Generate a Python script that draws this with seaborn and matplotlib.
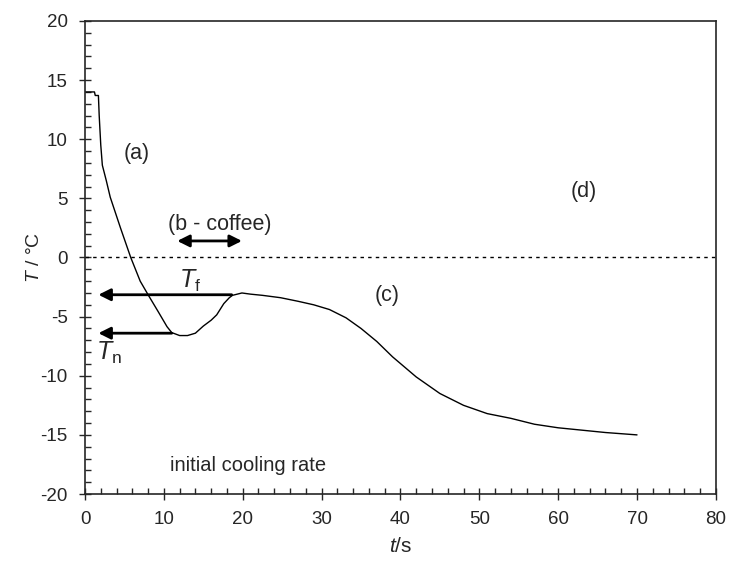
import numpy as np
import pandas as pd
import seaborn as sns
import matplotlib.pyplot as plt
from matplotlib.ticker import MultipleLocator

# temperature curve
t_s = [0, 1.2, 1.3, 1.7, 1.8, 2.0, 2.2, 2.7, 3.2, 4.5, 5.8, 7.0, 8.0, 9.3, 10.4, 11.0,
       12.0, 13.0, 14.0, 15.0, 16.0, 16.7, 17.6, 18.3, 18.7, 19.9, 21.0, 22.5, 24.8,
       27.0, 29.0, 31.0, 33.1, 35.0, 37.0, 39.0, 42.0, 45.0, 48.0, 51.0, 54.0, 57.0,
       60.0, 63.0, 66.0, 68.0, 70.0]
T_c = [14.0, 14.0, 13.7, 13.7, 12.0, 9.5, 7.8, 6.5, 5.1, 2.5, 0.0, -2.0, -3.15, -4.6,
       -5.85, -6.35, -6.6, -6.6, -6.4, -5.8, -5.3, -4.85, -3.9, -3.4, -3.2, -3.0, -3.1,
       -3.2, -3.4, -3.7, -4.0, -4.4, -5.1, -6.0, -7.1, -8.4, -10.1, -11.5, -12.5, -13.2,
       -13.6, -14.1, -14.4, -14.6, -14.8, -14.9, -15.0]

T_f = -3.15
T_n = -6.4
coffee_span = [11.7, 19.9]

sns.set_style('ticks')
plt.rcParams['font.family'] = ['Liberation Sans', 'DejaVu Sans']
plt.rcParams['axes.unicode_minus'] = False
plt.rcParams['mathtext.fontset'] = 'custom'
plt.rcParams['mathtext.it'] = 'Liberation Sans:italic'
plt.rcParams['mathtext.rm'] = 'Liberation Sans'

df = pd.DataFrame({'t': t_s, 'T': T_c})

fig = plt.figure(figsize=(7.29, 5.61), dpi=100)
ax = fig.add_axes([0.1166, 0.1194, 0.8654, 0.8432])

sns.lineplot(data=df, x='t', y='T', color='black', lw=1.0, ax=ax)
ax.axhline(0, color='black', lw=1.0, linestyle=(0, (2.5, 3)))

# arrows
ap = dict(arrowstyle='-|>', color='black', lw=2, mutation_scale=18, shrinkA=0, shrinkB=0)
ax.annotate('', xy=(1.7, T_f), xytext=(18.6, T_f), arrowprops=ap)
ax.annotate('', xy=(1.7, T_n), xytext=(11.0, T_n), arrowprops=ap)
ap2 = dict(ap, arrowstyle='<|-|>')
ax.annotate('', xy=(coffee_span[0], 1.4), xytext=(coffee_span[1], 1.4), arrowprops=ap2)

fs = 15.5
ax.text(6.6, 8.8, '(a)', fontsize=fs, ha='center', va='center')
ax.text(17.1, 2.75, '(b - coffee)', fontsize=fs, ha='center', va='center')
ax.text(38.3, -3.2, '(c)', fontsize=fs, ha='center', va='center')
ax.text(63.3, 5.6, '(d)', fontsize=fs, ha='center', va='center')
ax.text(13.3, -2.0, r'$\mathit{T}_{\mathrm{f}}$', fontsize=18, ha='center', va='center')
ax.text(3.1, -8.1, r'$\mathit{T}_{\mathrm{n}}$', fontsize=18, ha='center', va='center')
ax.text(20.7, -17.6, 'initial cooling rate', fontsize=14.5, ha='center', va='center')

ax.set_xlim(0, 80)
ax.set_ylim(-20, 20)
ax.xaxis.set_major_locator(MultipleLocator(10))
ax.xaxis.set_minor_locator(MultipleLocator(2))
ax.yaxis.set_major_locator(MultipleLocator(5))
ax.yaxis.set_minor_locator(MultipleLocator(1))
ax.tick_params(which='major', direction='inout', length=9, width=1, labelsize=13.5, pad=8)
ax.tick_params(which='minor', direction='in', length=4.5, width=1)
for s in ax.spines.values():
    s.set_linewidth(1.2)

ax.set_xlabel(r'$\mathit{t}$/s', fontsize=15, labelpad=6)
ax.set_ylabel(r'$\mathit{T}$ / °C', fontsize=14, labelpad=-2)

fig.savefig('out.png', dpi=100)
